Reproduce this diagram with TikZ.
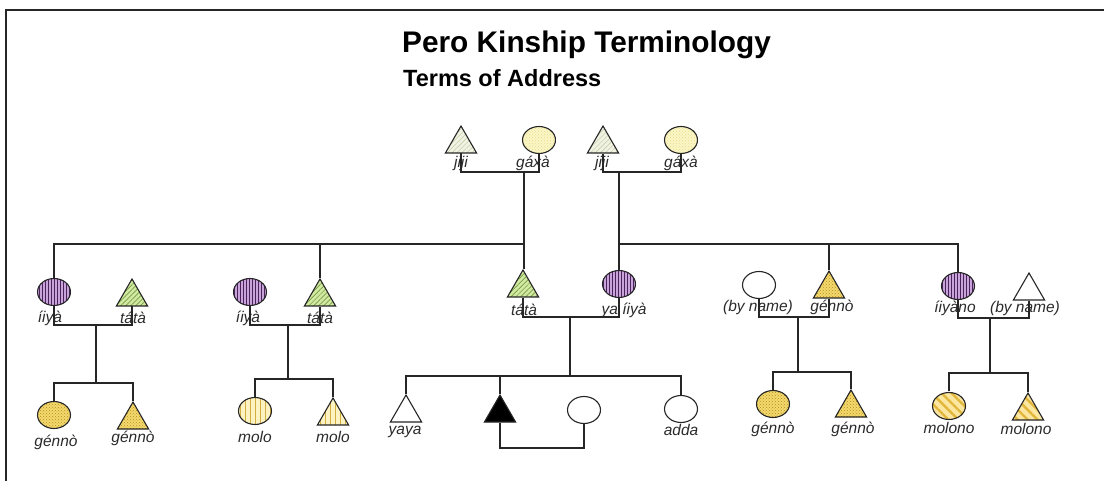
\documentclass[tikz,border=0pt]{standalone}
\usepackage{fontspec}
\setmainfont{Liberation Sans}
\usetikzlibrary{shapes.geometric,patterns,patterns.meta}
\definecolor{linec}{HTML}{262626}
\definecolor{labc}{HTML}{2A2A2A}
\definecolor{purp}{HTML}{C9A3DB}
\definecolor{purpd}{HTML}{4A2458}
\definecolor{grn}{HTML}{D2E9A2}
\definecolor{grnd}{HTML}{5E8A2E}
\definecolor{yel}{HTML}{F3DA6E}
\definecolor{yeld}{HTML}{B98A1E}
\definecolor{lyel}{HTML}{FCF2C2}
\definecolor{lyeld}{HTML}{D2AE40}
\definecolor{myel}{HTML}{FBE7A0}
\definecolor{myeld}{HTML}{E2B63A}
\definecolor{pale}{HTML}{F2F2E4}
\definecolor{paled}{HTML}{B8C89A}
\definecolor{pyel}{HTML}{FBF6C6}
\definecolor{pyeld}{HTML}{E6DC8A}
\tikzset{
  base/.style={draw=linec, line width=1.1pt, inner sep=0pt},
  circ/.style={base, ellipse, minimum width=33pt, minimum height=27pt},
  tri/.style={base, regular polygon, regular polygon sides=3, minimum size=36pt},
  conn/.style={draw=linec, line width=1.2pt},
  lab/.style={inner sep=0pt, text=labc, font=\fontsize{15.5}{16}\selectfont\itshape},
  purplef/.style={preaction={fill=purp}, pattern={Lines[angle=90,distance=3pt,line width=0.6pt]}, pattern color=purpd},
  greenf/.style={preaction={fill=grn}, pattern={Lines[angle=45,distance=3.5pt,line width=0.5pt]}, pattern color=grnd},
  checkf/.style={preaction={fill=yel}, pattern=crosshatch dots, pattern color=yeld},
  molof/.style={preaction={fill=lyel}, pattern={Lines[angle=90,distance=5pt,line width=0.6pt]}, pattern color=lyeld},
  molonof/.style={preaction={fill=myel}, pattern={Lines[angle=-45,distance=7pt,line width=2.4pt]}, pattern color=myeld},
  jijif/.style={preaction={fill=pale}, pattern={Lines[angle=45,distance=3.5pt,line width=0.4pt]}, pattern color=paled},
  gaxaf/.style={preaction={fill=pyel}, pattern=crosshatch dots, pattern color=pyeld},
}
\begin{document}
\begin{tikzpicture}[x=1pt,y=-1pt]
\useasboundingbox (0,0) rectangle (1104,481);
% frame
\draw[linec, line width=2pt] (1104,10) -- (6,10) -- (6,481);
% titles
\node[anchor=base west, inner sep=0pt, font=\fontsize{29.8}{32}\selectfont\bfseries] (title) at (402,53) {Pero Kinship Terminology};
\node[anchor=base west, inner sep=0pt, font=\fontsize{23.5}{26}\selectfont\bfseries] (subtitle) at (403,87) {Terms of Address};

% generation 1
\node[tri, jijif] (jA) at (461,144) {};
\node[circ, gaxaf] (gA) at (539,140) {};
\node[tri, jijif] (jB) at (603,144) {};
\node[circ, gaxaf] (gB) at (681,140) {};
\node[lab] (ljA) at (461,163) {jiji};
\node[lab] (lgA) at (533,163) {gáxà};
\node[lab] (ljB) at (602,163) {jiji};
\node[lab] (lgB) at (681,163) {gáxà};

% generation 2
\node[circ, purplef] (iyaL1) at (54,292) {};
\node[tri, greenf] (tataL1) at (132,297) {};
\node[circ, purplef] (iyaL2) at (250,292) {};
\node[tri, greenf] (tataL2) at (320,297) {};
\node[tri, greenf] (tataC) at (523,288) {};
\node[circ, purplef] (yaiiya) at (619,284) {};
\node[circ, fill=white] (bynameL) at (759,285) {};
\node[tri, checkf] (gennoR) at (829,289) {};
\node[circ, purplef] (iyanoR) at (958,286) {};
\node[tri, fill=white] (bynameR) at (1029,291) {};

\node[lab] (liyaL1) at (50,318) {íiyà};
\node[lab] (ltataL1) at (133,318) {tátà};
\node[lab] (liyaL2) at (248,318) {íiyà};
\node[lab] (ltataL2) at (320,318) {tátà};
\node[lab] (ltataC) at (524,310) {tátà};
\node[lab] (lyaiiya) at (624,310) {ya íiyà};
\node[lab] (lbynameL) at (758,307) {(by name)};
\node[lab] (lgennoR) at (832,307) {génnò};
\node[lab] (liyanoR) at (955,308) {íiyàno};
\node[lab] (lbynameR) at (1025,308) {(by name)};

% generation 3
\node[circ, checkf] (gL1c) at (54,415) {};
\node[tri, checkf] (gL1t) at (133,420) {};
\node[circ, molof] (moloC) at (255,411) {};
\node[tri, molof] (moloT) at (333,416) {};
\node[tri, fill=white] (yaya) at (406,413) {};
\node[tri, fill=black] (ego) at (500,413) {};
\node[circ, fill=white] (wife) at (584,410) {};
\node[circ, fill=white] (adda) at (681,409) {};
\node[circ, checkf] (gR1c) at (773,404) {};
\node[tri, checkf] (gR1t) at (851,408) {};
\node[circ, molonof] (molonoC) at (949,406) {};
\node[tri, molonof] (molonoT) at (1028,411) {};

\node[lab] (lgL1c) at (56,442) {génnò};
\node[lab] (lgL1t) at (133,438) {génnò};
\node[lab] (lmoloC) at (255,437) {molo};
\node[lab] (lmoloT) at (333,437) {molo};
\node[lab] (lyaya) at (405,432) {yaya};
\node[lab] (ladda) at (681,430) {adda};
\node[lab] (lgR1c) at (773,429) {génnò};
\node[lab] (lgR1t) at (853,429) {génnò};
\node[lab] (lmolonoC) at (949,428) {molono};
\node[lab] (lmolonoT) at (1026,429) {molono};

% junction coordinates
\coordinate (cA) at (524,172);
\coordinate (cB) at (619,172);
\coordinate (s2L) at (524,244);
\coordinate (s2R) at (619,244);
\coordinate (cL1) at (96,325);
\coordinate (sL1) at (96,383);
\coordinate (cL2) at (288,325);
\coordinate (sL2) at (288,379);
\coordinate (cC) at (570,317);
\coordinate (sC) at (570,376);
\coordinate (mC) at (542,448);
\coordinate (cR1) at (798,317);
\coordinate (sR1) at (798,372);
\coordinate (cR2) at (990,318);
\coordinate (sR2) at (990,373);

% generation 1 couples
\draw[conn] (jA.south) |- (cA) -| (gA.south);
\draw[conn] (jB.south) |- (cB) -| (gB.south);
\draw[conn] (cA) -- (cA |- tataC.north);
\draw[conn] (cB) -- (yaiiya.north);
% sibling line generation 2
\draw[conn] (iyaL1.north) |- (s2L);
\draw[conn] (tataL2.north) -- (tataL2.north |- s2L);
\draw[conn] (s2R) -| (iyanoR.north);
\draw[conn] (gennoR.north) -- (gennoR.north |- s2R);
% couples generation 2
\draw[conn] (iyaL1.south) |- (cL1) -| (tataL1.south);
\draw[conn] (iyaL2.south) |- (cL2) -| (tataL2.south);
\draw[conn] (tataC.south) |- (cC) -| (yaiiya.south);
\draw[conn] (bynameL.south) |- (cR1) -| (gennoR.south);
\draw[conn] (iyanoR.south) |- (cR2) -| (bynameR.south);
% descent
\draw[conn] (cL1) -- (sL1);
\draw[conn] (cL2) -- (sL2);
\draw[conn] (cC) -- (sC);
\draw[conn] (cR1) -- (sR1);
\draw[conn] (cR2) -- (sR2);
% sibling lines generation 3
\draw[conn] (gL1c.north) |- (sL1) -| (gL1t.north);
\draw[conn] (moloC.north) |- (sL2) -| (moloT.north);
\draw[conn] (yaya.north) |- (sC) -| (adda.north);
\draw[conn] (ego.north) -- (ego.north |- sC);
\draw[conn] (gR1c.north) |- (sR1) -| (gR1t.north);
\draw[conn] (molonoC.north) |- (sR2) -| (molonoT.north);
% marriage of ego
\draw[conn] (ego.south) |- (mC) -| (wife.south);
\end{tikzpicture}
\end{document}
